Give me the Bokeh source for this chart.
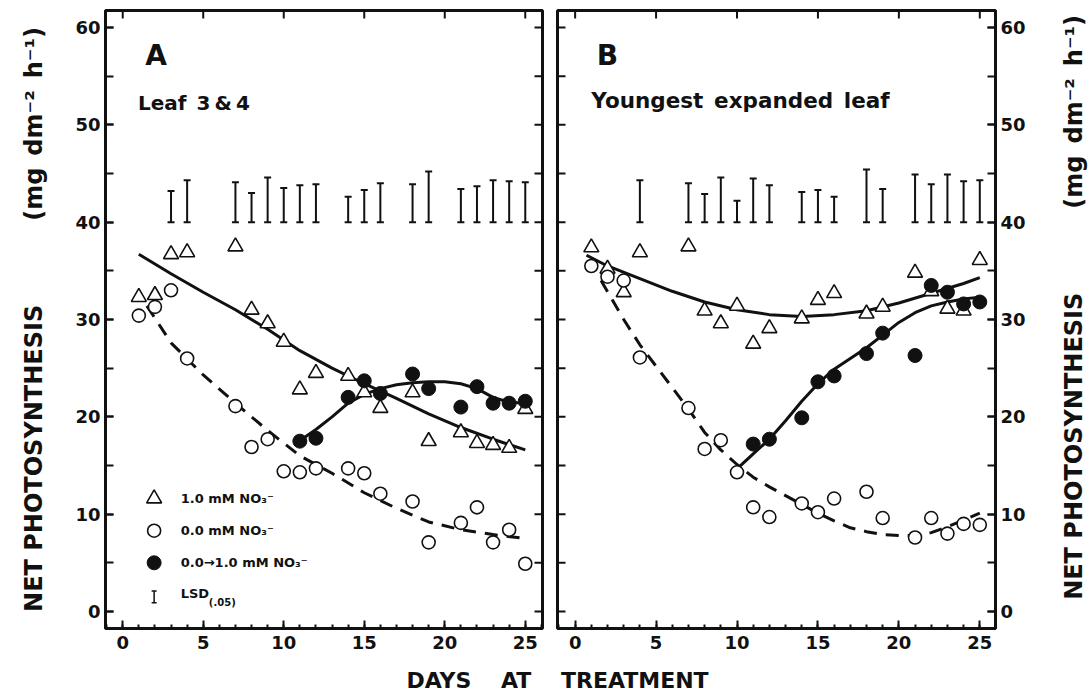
import math
from bokeh.plotting import figure
from bokeh.layouts import row, column
from bokeh.models import LinearAxis, SingleIntervalTicker, Range1d, Label
from bokeh.embed import file_html
from bokeh.resources import INLINE
from bokeh.core.properties import value

FONT = "DejaVu Sans"
INK = "#111111"

# ---------------- Panel A : Leaf 3 & 4 ----------------
a_days = [1, 2, 3, 4, 7, 8, 9, 10, 11, 12, 14, 15, 16, 18, 19, 21, 22, 23, 24, 25]
a_tri = [32.3, 32.5, 36.7, 36.9, 37.5, 31.0, 29.6, 27.7, 22.8, 24.5,
         24.2, 22.5, 20.9, 22.5, 17.5, 18.4, 17.3, 17.1, 16.8, 20.8]
a_open = [30.4, 31.3, 33.0, 26.0, 21.1, 16.9, 17.7, 14.4, 14.3, 14.7,
          14.7, 14.2, 12.1, 11.3, 7.1, 9.1, 10.7, 7.1, 8.4, 4.9]
a_fill_days = [11, 12, 14, 15, 16, 18, 19, 21, 22, 23, 24, 25]
a_fill = [17.5, 17.8, 22.0, 23.7, 22.4, 24.4, 22.9, 21.0, 23.1, 21.4, 21.4, 21.6]

a_fit_tri_x = [1, 3, 5, 7, 9, 11, 13, 15, 17, 19, 21, 23, 25]
a_fit_tri_y = [36.7, 34.7, 32.8, 31.0, 29.0, 26.8, 25.0, 23.4, 21.9, 20.3, 18.9, 17.7, 16.6]
a_fit_open_x = [1.5, 3, 5, 7, 9, 11, 13, 15, 17, 19, 21, 23, 25]
a_fit_open_y = [31.4, 27.6, 24.3, 21.4, 18.6, 16.0, 14.2, 12.2, 10.6, 9.2, 8.4, 7.9, 7.5]
a_fit_fill_x = [10.7, 12, 13, 14, 15, 16, 17, 18, 19, 20, 21, 22, 23, 24, 25]
a_fit_fill_y = [17.2, 18.7, 20.0, 21.4, 22.3, 22.9, 23.3, 23.5, 23.6, 23.6, 23.4, 22.9, 22.0, 21.5, 21.4]

a_lsd_days = [3, 4, 7, 8, 9, 10, 11, 12, 14, 15, 16, 18, 19, 21, 22, 23, 24, 25]
a_lsd_top = [43.2, 44.3, 44.1, 43.0, 44.6, 43.5, 43.8, 43.9, 42.6, 43.3,
             44.0, 43.9, 45.2, 43.4, 43.7, 44.3, 44.2, 44.1]

# ---------------- Panel B : Youngest expanded leaf ----------------
b_days = [1, 2, 3, 4, 7, 8, 9, 10, 11, 12, 14, 15, 16, 18, 19, 21, 22, 23, 24, 25]
b_tri = [37.4, 35.2, 32.8, 36.9, 37.5, 30.9, 29.6, 31.4, 27.5, 29.1,
         30.1, 32.0, 32.7, 30.6, 31.3, 34.8, 32.9, 31.1, 30.9, 36.1]
b_open = [35.5, 34.4, 34.0, 26.1, 20.9, 16.7, 17.6, 14.3, 10.7, 9.7,
          11.1, 10.2, 11.6, 12.3, 9.6, 7.6, 9.6, 8.0, 9.0, 8.9]
b_fill_days = [11, 12, 14, 15, 16, 18, 19, 21, 22, 23, 24, 25]
b_fill = [17.2, 17.7, 19.9, 23.6, 24.2, 26.5, 28.6, 26.3, 33.5, 32.8, 31.6, 31.8]

b_fit_tri_x = [0.7, 2, 4, 6, 8, 10, 12, 14, 16, 18, 20, 22, 24, 25]
b_fit_tri_y = [36.6, 35.5, 34.2, 32.9, 31.8, 31.0, 30.5, 30.3, 30.5, 30.9, 31.7, 32.7, 33.7, 34.3]
b_fit_open_x = [1.6, 3, 4, 5, 6, 7, 8, 9, 10, 11, 12, 13, 14, 15, 16, 17, 18, 19, 20, 21, 22, 23, 24, 25]
b_fit_open_y = [34.0, 30.0, 27.4, 25.2, 23.0, 20.8, 18.4, 16.6, 15.1, 13.8, 12.8, 11.9,
                11.0, 10.1, 9.3, 8.6, 8.2, 7.9, 7.8, 7.8, 8.1, 8.7, 9.4, 10.1]
b_fit_fill_x = [10.1, 11, 12, 13, 14, 15, 16, 17, 18, 19, 20, 21, 22, 23, 24, 25]
b_fit_fill_y = [14.8, 16.2, 17.7, 19.6, 21.6, 23.4, 24.9, 26.0, 27.1, 28.4, 29.7, 30.7, 31.4, 31.8, 32.1, 32.3]

b_lsd_days = [4, 7, 8, 9, 10, 11, 12, 14, 15, 16, 18, 19, 21, 22, 23, 24, 25]
b_lsd_top = [44.3, 44.0, 42.9, 44.6, 42.2, 44.5, 43.8, 43.1, 43.3, 42.6,
             45.4, 43.4, 44.9, 43.9, 44.9, 44.2, 44.3]

lsd_base = 40.0

# tick values
x_major_step = 5
y_major_step = 10
top_tick_vals = [0, 5, 10, 15, 20, 25]
side_tick_vals = [0, 5, 10, 15, 20, 25, 30, 35, 40, 45, 50, 55, 60]

legend_labels = ["1.0 mM NO\u2083\u207b", "0.0 mM NO\u2083\u207b",
                 "0.0\u21921.0 mM NO\u2083\u207b"]
y_title = ("NET PHOTOSYNTHESIS\u2003\u2003\u2003\u2002"
           "(mg\u2002dm\u207b\u00b2\u2002h\u207b\u00b9)")
x_title = "DAYS\u2003 AT\u2003 TREATMENT"

Y_RANGE = (-1.75, 61.75)
FRAME_H = 618
BORDER_TOP = 10
BORDER_BOTTOM = 36
PANEL_H = BORDER_TOP + FRAME_H + BORDER_BOTTOM


def style_axis(ax):
    ax.axis_line_width = 3
    ax.axis_line_color = INK
    ax.major_tick_line_width = 2
    ax.minor_tick_line_width = 2
    ax.major_tick_line_color = INK
    ax.minor_tick_line_color = INK
    ax.major_tick_out = 0
    ax.minor_tick_out = 0
    ax.major_tick_in = 8
    ax.minor_tick_in = 4
    ax.major_label_text_font = FONT
    ax.major_label_text_font_style = "bold"
    ax.major_label_text_color = INK
    ax.major_label_text_font_size = "18px"
    ax.axis_label_text_font = FONT
    ax.axis_label_text_font_style = "bold"
    ax.axis_label_text_font_size = "24px"
    ax.axis_label_text_color = INK


def make_panel(x_rng, total_w, min_left, min_right, side):
    p = figure(width=total_w, height=PANEL_H,
               x_range=Range1d(*x_rng), y_range=Range1d(*Y_RANGE),
               output_backend="svg", toolbar_location=None, title=None,
               x_axis_location=None, y_axis_location=None,
               min_border_left=min_left, min_border_right=min_right,
               min_border_top=BORDER_TOP, min_border_bottom=BORDER_BOTTOM)
    p.grid.visible = False
    p.outline_line_color = INK
    p.outline_line_width = 3
    p.background_fill_color = "white"
    p.border_fill_color = "white"

    bx = LinearAxis(ticker=SingleIntervalTicker(interval=x_major_step, num_minor_ticks=5))
    style_axis(bx)
    bx.major_label_standoff = 7
    p.add_layout(bx, "below")

    ly = LinearAxis(ticker=SingleIntervalTicker(interval=y_major_step, num_minor_ticks=2))
    style_axis(ly)
    ly.minor_tick_in = 8
    ly.major_label_standoff = 5

    # inward ticks on the top edge and on the unlabeled vertical edge
    p.scatter(top_tick_vals, [Y_RANGE[1]] * len(top_tick_vals), marker="dash",
              angle=math.pi / 2, size=16, line_color=INK, line_width=2)
    edge_x = x_rng[1] if side == "left" else x_rng[0]
    p.scatter([edge_x] * len(side_tick_vals), side_tick_vals, marker="dash",
              size=16, line_color=INK, line_width=2)

    if side == "left":
        ly.axis_label = y_title
        ly.axis_label_standoff = 24
        p.add_layout(ly, "left")
    else:
        p.add_layout(ly, "right")
    return p


def draw_data(p, days, tri, opn, fdays, fil, ftx, fty, fox, foy, ffx, ffy, ldays, ltop):
    # LSD bars
    p.segment(x0=ldays, y0=[lsd_base] * len(ldays), x1=ldays, y1=ltop,
              line_color=INK, line_width=2)
    p.scatter(ldays, ltop, marker="dash", size=7, line_color=INK, line_width=2)
    p.scatter(ldays, [lsd_base] * len(ldays), marker="dash", size=7,
              line_color=INK, line_width=2)
    # fitted curves
    p.line(ftx, fty, line_color=INK, line_width=3)
    p.line(fox, foy, line_color=INK, line_width=3, line_dash="13 9")
    p.line(ffx, ffy, line_color=INK, line_width=3)
    # points
    p.scatter(days, tri, marker="triangle", size=15, fill_color="white",
              line_color=INK, line_width=1.6)
    p.scatter(days, opn, marker="circle", size=13, fill_color="white",
              line_color=INK, line_width=1.6)
    p.scatter(fdays, fil, marker="circle", size=14, fill_color=INK,
              line_color=INK, line_width=1)


def text_strip(width, height):
    f = figure(width=width, height=height, x_range=Range1d(0, width),
               y_range=Range1d(0, height), output_backend="svg",
               toolbar_location=None, title=None,
               x_axis_location=None, y_axis_location=None,
               min_border_left=0, min_border_right=0,
               min_border_top=0, min_border_bottom=0)
    f.grid.visible = False
    f.outline_line_color = None
    f.background_fill_color = "white"
    f.border_fill_color = "white"
    return f


# ---- Panel A  (frame 437 px wide)
pA = make_panel((-1.07, 26.07), 105 + 437 + 7, 105, 7, "left")
draw_data(pA, a_days, a_tri, a_open, a_fill_days, a_fill,
          a_fit_tri_x, a_fit_tri_y, a_fit_open_x, a_fit_open_y,
          a_fit_fill_x, a_fit_fill_y, a_lsd_days, a_lsd_top)

pA.text(x=[1.4], y=[58.8], text=["A"], text_font=value(FONT), text_font_style="bold",
        text_font_size="28px", text_baseline="top", text_align="left", text_color=INK)
pA.text(x=[0.95], y=[52.2], text=["Leaf\u20023\u2009&\u20094"], text_font=value(FONT),
        text_font_style="bold", text_font_size="20px", text_baseline="middle",
        text_align="left", text_color=INK)

# legend (panel A)
leg_x_sym = 1.95
leg_x_txt = 3.6
leg_y = [11.6, 8.3, 5.0, 1.5]
pA.scatter([leg_x_sym], [leg_y[0]], marker="triangle", size=15, fill_color="white",
           line_color=INK, line_width=1.6)
pA.scatter([leg_x_sym], [leg_y[1]], marker="circle", size=13, fill_color="white",
           line_color=INK, line_width=1.6)
pA.scatter([leg_x_sym], [leg_y[2]], marker="circle", size=14, fill_color=INK,
           line_color=INK, line_width=1)
pA.segment(x0=[leg_x_sym], y0=[leg_y[3] - 0.6], x1=[leg_x_sym], y1=[leg_y[3] + 0.6],
           line_color=INK, line_width=1.5)
pA.scatter([leg_x_sym, leg_x_sym], [leg_y[3] - 0.6, leg_y[3] + 0.6], marker="dash",
           size=5, line_color=INK, line_width=1.5)
pA.text(x=[leg_x_txt] * 3, y=leg_y[:3], text=legend_labels, text_font=value(FONT),
        text_font_style="bold", text_font_size="13px", text_baseline="middle",
        text_align="left", text_color=INK)
pA.text(x=[leg_x_txt], y=[leg_y[3] + 0.3], text=["LSD"], text_font=value(FONT),
        text_font_style="bold", text_font_size="13px", text_baseline="middle",
        text_align="left", text_color=INK)
pA.text(x=[leg_x_txt + 1.75], y=[leg_y[3] - 0.6], text=["(.05)"], text_font=value(FONT),
        text_font_style="bold", text_font_size="10px", text_baseline="middle",
        text_align="left", text_color=INK)

# ---- Panel B  (frame 438 px wide)
pB = make_panel((-1.09, 25.97), 8 + 438 + 57, 8, 57, "right")
draw_data(pB, b_days, b_tri, b_open, b_fill_days, b_fill,
          b_fit_tri_x, b_fit_tri_y, b_fit_open_x, b_fit_open_y,
          b_fit_fill_x, b_fit_fill_y, b_lsd_days, b_lsd_top)
pB.text(x=[1.33], y=[58.8], text=["B"], text_font=value(FONT), text_font_style="bold",
        text_font_size="28px", text_baseline="top", text_align="left", text_color=INK)
pB.text(x=[1.0], y=[52.5], text=["Youngest\u2002expanded\u2002leaf"], text_font=value(FONT),
        text_font_style="bold", text_font_size="21.5px", text_baseline="middle",
        text_align="left", text_color=INK)

# ---- right-hand y title (reads bottom to top, like the left one)
RIGHT_W = 40
pR = text_strip(RIGHT_W, PANEL_H)
pR.add_layout(Label(x=21, y=PANEL_H - (BORDER_TOP + FRAME_H / 2), text=y_title,
                    angle=math.pi / 2, text_align="center", text_baseline="middle",
                    text_font=FONT, text_font_style="bold", text_font_size="24px",
                    text_color=INK))

# ---- shared x-axis title
TITLE_H = 693 - PANEL_H
pT = text_strip(1092, TITLE_H)
pT.add_layout(Label(x=557, y=13.5, text=x_title, text_align="center",
                    text_baseline="middle", text_font=FONT, text_font_style="bold",
                    text_font_size="22px", text_color=INK))

layout = column(row(pA, pB, pR, spacing=0), pT, spacing=0)
open("out.html", "w").write(file_html(layout, INLINE))
